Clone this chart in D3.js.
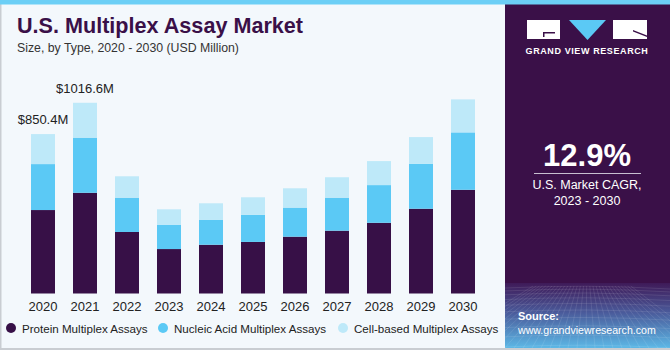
<!DOCTYPE html>
<html>
<head>
<meta charset="utf-8">
<script src="https://cdn.jsdelivr.net/npm/d3@7"></script>
<style>
  body { margin: 0; padding: 0; background: #fff; }
  svg { display: block; font-family: "Liberation Sans", Arial, sans-serif; }
</style>
</head>
<body>
<div id="chart"></div>
<script>
var years = ["2020", "2021", "2022", "2023", "2024", "2025", "2026", "2027", "2028", "2029", "2030"];
var protein = [445, 537, 328, 237, 260, 275, 303, 335, 377, 452, 553];
var nucleic = [245, 294, 183, 130, 132, 144, 155, 176, 201, 240, 306];
var cellBased = [160, 186, 114, 82, 89, 94, 103, 109, 128, 142, 176];
var seriesNames = ["Protein Multiplex Assays", "Nucleic Acid Multiplex Assays", "Cell-based Multiplex Assays"];
var colors = ["#371047", "#5bc9f5", "#bee9f9"];
var callouts = [{ year: "2020", label: "$850.4M" }, { year: "2021", label: "$1016.6M" }];

var W = 670, H = 350;
var svg = d3.select("#chart").append("svg")
    .attr("width", W)
    .attr("height", H);

// background + frame
svg.append("rect").attr("width", W).attr("height", H).attr("fill", "#f3f8fc");
svg.append("rect").attr("x", 0).attr("y", 0).attr("width", 1.5).attr("height", H).attr("fill", "#c9cdd2");
svg.append("rect").attr("x", 0).attr("y", H - 2).attr("width", W).attr("height", 2).attr("fill", "#c9cdd2");

// right panel
var defs = svg.append("defs");
var grad = defs.append("linearGradient").attr("id", "pgrad")
    .attr("x1", 0).attr("y1", 0).attr("x2", 0).attr("y2", 1);
grad.append("stop").attr("offset", "0%").attr("stop-color", "#3f1a58");
grad.append("stop").attr("offset", "45%").attr("stop-color", "#4a5a9a");
grad.append("stop").attr("offset", "100%").attr("stop-color", "#5cb8e6");

svg.append("rect").attr("x", 505).attr("y", 0).attr("width", W - 505).attr("height", H - 2).attr("fill", "#3a1048");
svg.append("rect").attr("x", 505).attr("y", 283).attr("width", W - 505).attr("height", H - 2 - 283).attr("fill", "url(#pgrad)");

// mesh lines on the gradient
var mesh = svg.append("g").attr("stroke", "#ffffff").attr("stroke-opacity", 0.14).attr("stroke-width", 0.7).attr("fill", "none");
for (var i = 0; i < 12; i++) {
    var yy = 288 + i * i * 0.45 + i * 2.5;
    mesh.append("path").attr("d", "M505," + yy + " Q587," + (yy - 4) + " 670," + (yy + 1));
}
for (var j = -8; j < 24; j++) {
    var xt = 505 + j * 9;
    mesh.append("path").attr("d", "M" + (587 + (xt - 587) * 0.35) + ",286 L" + xt + ",348");
}

// top stripe
svg.append("rect").attr("x", 0).attr("y", 0).attr("width", W).attr("height", 4.5).attr("fill", "#6ccff6");

// logo
var logo = svg.append("g");
logo.append("rect").attr("x", 527).attr("y", 20).attr("width", 33).attr("height", 19).attr("fill", "#fff");
logo.append("path").attr("d", "M543,32 L555,32 L555,33.5 L544.5,33.5 L544.5,37 L543,37 Z").attr("fill", "#3a1048");
logo.append("path").attr("d", "M569,20 L606,20 L587.5,40 Z").attr("fill", "#5bc9f5");
logo.append("rect").attr("x", 613).attr("y", 20).attr("width", 34).attr("height", 19).attr("fill", "#fff");
logo.append("path").attr("d", "M633,30 L647,35.5 L647,37 L633,31.5 Z").attr("fill", "#3a1048");
logo.append("text").attr("x", 587).attr("y", 54).attr("text-anchor", "middle")
    .attr("fill", "#fff").attr("font-size", 9).attr("font-weight", "bold").attr("letter-spacing", 0.6)
    .text("GRAND VIEW RESEARCH");

// CAGR box
svg.append("text").attr("x", 587).attr("y", 166).attr("text-anchor", "middle")
    .attr("fill", "#fff").attr("font-size", 31).attr("font-weight", "bold").text("12.9%");
svg.append("line").attr("x1", 534).attr("x2", 641).attr("y1", 173.5).attr("y2", 173.5)
    .attr("stroke", "#c7bfd0").attr("stroke-width", 1.2);
svg.append("text").attr("x", 587).attr("y", 189).attr("text-anchor", "middle")
    .attr("fill", "#fff").attr("font-size", 12.5).text("U.S. Market CAGR,");
svg.append("text").attr("x", 587).attr("y", 205).attr("text-anchor", "middle")
    .attr("fill", "#fff").attr("font-size", 12.5).text("2023 - 2030");

// source
svg.append("text").attr("x", 518).attr("y", 320).attr("fill", "#fff")
    .attr("font-size", 11).attr("font-weight", "bold").text("Source:");
svg.append("text").attr("x", 518).attr("y", 334).attr("fill", "#fff")
    .attr("font-size", 10.6).text("www.grandviewresearch.com");

// title
svg.append("text").attr("x", 17).attr("y", 33).attr("fill", "#3a1048")
    .attr("font-size", 21.6).attr("font-weight", "bold").text("U.S. Multiplex Assay Market");
svg.append("text").attr("x", 17).attr("y", 52).attr("fill", "#333")
    .attr("font-size", 12.3).text("Size, by Type, 2020 - 2030 (USD Million)");

// chart
var x = d3.scaleBand()
    .domain(years)
    .range([22, 484])
    .paddingInner(0.4286)
    .paddingOuter(0.2143);

var y = d3.scaleLinear()
    .domain([0, 1200])
    .range([293.5, 293.5 - 1200 / 5.332]);

var table = years.map(function(yr, i) {
    return { year: yr, protein: protein[i], nucleic: nucleic[i], cell: cellBased[i] };
});
var stack = d3.stack().keys(["protein", "nucleic", "cell"])(table);

svg.append("g").selectAll("g")
    .data(stack)
    .enter().append("g")
    .attr("fill", function(d, i) { return colors[i]; })
    .selectAll("rect")
    .data(function(d) { return d; })
    .enter().append("rect")
    .attr("x", function(d) { return x(d.data.year); })
    .attr("y", function(d) { return y(d[1]); })
    .attr("width", x.bandwidth())
    .attr("height", function(d) { return y(d[0]) - y(d[1]); });

// x axis
var xAxis = svg.append("g")
    .attr("transform", "translate(0,293.5)")
    .call(d3.axisBottom(x).tickSize(0).tickPadding(8));
xAxis.select(".domain").remove();
xAxis.selectAll("text")
    .attr("fill", "#222")
    .style("font-size", "13px")
    .style("font-family", "'Liberation Sans', Arial, sans-serif");

// callouts
svg.selectAll(".callout")
    .data(callouts)
    .enter().append("text")
    .attr("class", "callout")
    .attr("x", function(d) { return x(d.year) + x.bandwidth() / 2; })
    .attr("y", function(d) {
        var i = years.indexOf(d.year);
        return y(protein[i] + nucleic[i] + cellBased[i]) - 10;
    })
    .attr("text-anchor", "middle")
    .attr("fill", "#222")
    .attr("font-size", 13)
    .text(function(d) { return d.label; });

// legend
var legendX = [11, 163, 343];
var legend = svg.selectAll(".legend")
    .data(seriesNames)
    .enter().append("g")
    .attr("class", "legend")
    .attr("transform", function(d, i) { return "translate(" + legendX[i] + ",328)"; });
legend.append("circle").attr("r", 5).attr("fill", function(d, i) { return colors[i]; });
legend.append("text").attr("x", 11).attr("y", 4.5)
    .attr("fill", "#222").attr("font-size", 11.6)
    .text(function(d) { return d; });
</script>
</body>
</html>
